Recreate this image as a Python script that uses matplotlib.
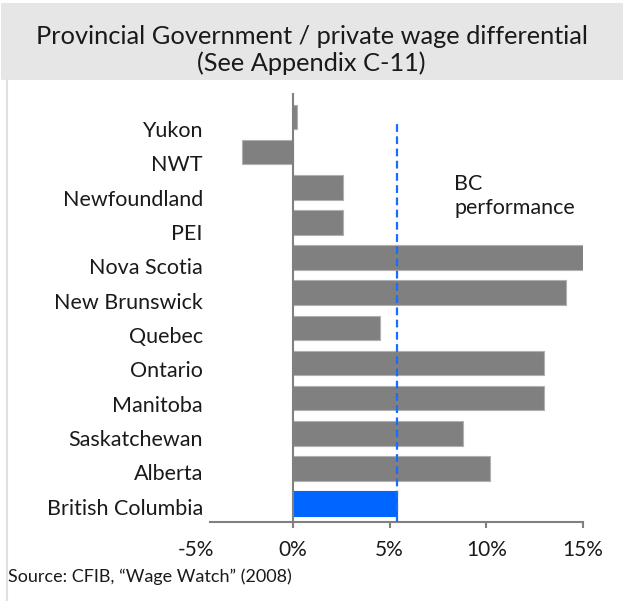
import matplotlib.pyplot as plt
from matplotlib.patches import Rectangle
from matplotlib.lines import Line2D
import matplotlib.transforms as mtransforms

plt.rcParams['font.family'] = ['Lato', 'DejaVu Sans']

provinces = ['Yukon', 'NWT', 'Newfoundland', 'PEI', 'Nova Scotia', 'New Brunswick',
             'Quebec', 'Ontario', 'Manitoba', 'Saskatchewan', 'Alberta', 'British Columbia']
differential = [0.2, -2.6, 2.6, 2.6, 15.0, 14.1, 4.5, 13.0, 13.0, 8.8, 10.2, 5.4]
bc_level = 5.4
xticks = [-5, 0, 5, 10, 15]
xticklabels = ['-5%', '0%', '5%', '10%', '15%']

W, H = 623, 601
fig = plt.figure(figsize=(W / 100, H / 100), dpi=100)

def fx(px):
    return px / W

def fy(py):
    return 1 - py / H

# grey header band + thin left border
fig.patches.append(Rectangle((fx(1), fy(80)), fx(622), 77 / H, transform=fig.transFigure,
                             facecolor='#e6e6e6', edgecolor='none', zorder=0))
fig.lines.append(Line2D([fx(7), fx(7)], [fy(80), 0], transform=fig.transFigure,
                       color='#e0e0e0', lw=1.5))
fig.text(0.5, fy(36), 'Provincial Government / private wage differential',
         ha='center', va='center', fontsize=18.3, color='#1a1a1a')
fig.text(0.5, fy(63), '(See Appendix C-11)', ha='center', va='center',
         fontsize=18.3, color='#1a1a1a')

ax = fig.add_axes([fx(196), fy(521.5), fx(583) - fx(196), (521.5 - 93) / H])

n = len(provinces)
ypos = list(range(n - 1, -1, -1))
colors = ['#808080'] * (n - 1) + ['#0066ff']
edges = ['#b0b0b0'] * (n - 1) + ['#0066ff']
ax.barh(ypos, differential, height=0.7, color=colors, edgecolor=edges, linewidth=0.8, zorder=2)

ax.axvline(0, color='#808080', lw=1.5, zorder=3)
ax.vlines(bc_level, -0.55, 10.8, colors='#1a6cff', linestyles=(0, (3.5, 2)), lw=1.6, zorder=4)
ax.text(8.35, 8.75, 'BC\nperformance', ha='left', va='center', fontsize=15.5,
        color='#1a1a1a', linespacing=1.3)

ax.set_xlim(-5, 15)
ax.set_ylim(-0.51, 11.68)
ax.set_xticks(xticks)
ax.set_xticklabels(xticklabels, fontsize=15, color='#1a1a1a')
ax.set_yticks(ypos)
ax.set_yticklabels(provinces, fontsize=15.5, color='#1a1a1a')

for s in ['top', 'right', 'left']:
    ax.spines[s].set_visible(False)
ax.spines['bottom'].set_color('#808080')
ax.spines['bottom'].set_linewidth(1.5)
ax.spines['bottom'].set_bounds(-4.3, 15)

ax.tick_params(axis='x', direction='out', length=4, width=1.5, color='#808080', pad=9)
ax.tick_params(axis='y', length=0, pad=-5)
ax.xaxis.get_major_ticks()[0].tick1line.set_visible(False)

# province names drift slightly below the bar centres, more so toward the top
for i, lab in enumerate(ax.get_yticklabels()):
    shift = 12 - 9 * i / (n - 1)
    off = mtransforms.ScaledTranslation(0, -shift / 100, fig.dpi_scale_trans)
    lab.set_transform(lab.get_transform() + off)

fig.text(fx(8), fy(577), 'Source: CFIB, \u201cWage Watch\u201d (2008)', ha='left', va='center',
         fontsize=13, color='#1a1a1a')

fig.savefig('out.png', dpi=100)
